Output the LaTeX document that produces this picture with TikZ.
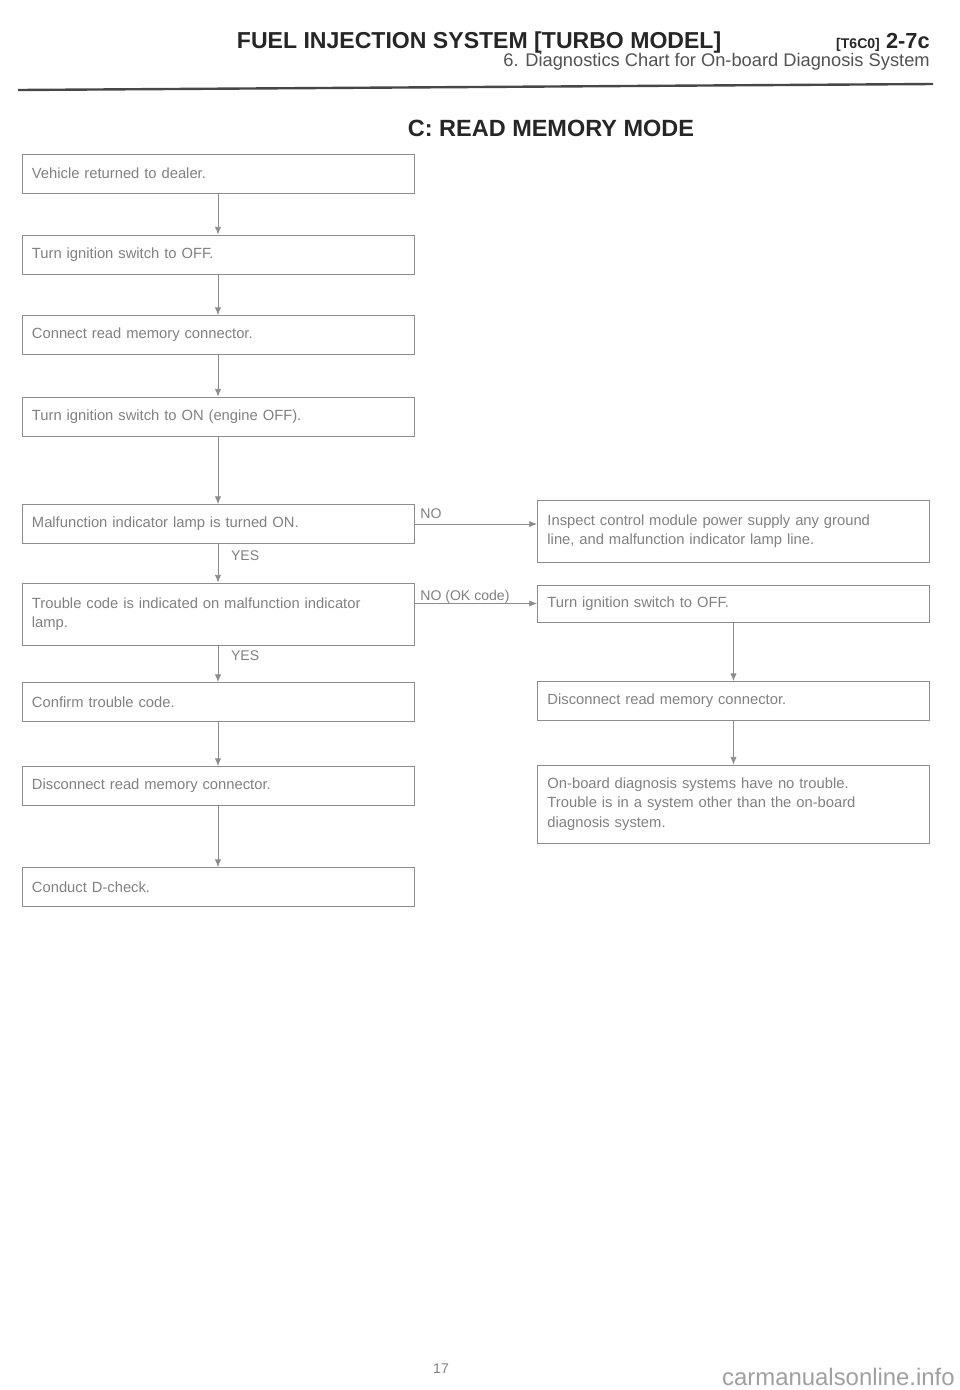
\documentclass[tikz,border=0pt]{standalone}
\usepackage{fontspec}
\setmainfont{Liberation Sans}
\usetikzlibrary{arrows.meta}
\definecolor{boxgray}{gray}{0.55}
\definecolor{inkgray}{gray}{0.5}
\definecolor{headink}{gray}{0.15}

\begin{document}
\begin{tikzpicture}[
  x=0.025cm, y=-0.025cm,
  stepbox/.style={draw=boxgray, line width=0.6pt, minimum height=0.975cm,
    text width=9.3cm, align=left, inner xsep=0.25cm, text=inkgray,
    font=\fontsize{10.5}{13.8}\selectfont},
  tallbox/.style={stepbox, minimum height=1.55cm},
  flow/.style={draw=boxgray, line width=0.6pt, -{Latex[length=5.5pt,width=4.5pt]}},
  answer/.style={text=inkgray, font=\fontsize{10}{12}\selectfont, inner sep=1pt}
]
\useasboundingbox (0,0) rectangle (960,1390);

% page header
\node[anchor=base west, text=headink, font=\bfseries\fontsize{16.4}{18}\selectfont] (title) at (232,48) {FUEL INJECTION SYSTEM [TURBO MODEL]};
\node[anchor=base east, text=headink, font=\bfseries\fontsize{15.5}{18}\selectfont, inner sep=0pt] (pageno) at (930,48) {2-7c};
\node[anchor=base east, text=headink, font=\bfseries\fontsize{10}{12}\selectfont, inner xsep=4pt] (code) at (pageno.base west) {[T6C0]};
\node[anchor=base east, text=headink!80, font=\fontsize{13}{15}\selectfont, inner sep=0pt] (sub) at (930,66) {6. Diagnostics Chart for On-board Diagnosis System};
\draw[headink!85, line width=1.7pt] (18,90) -- (933,84);
\node[anchor=base, text=headink, font=\bfseries\fontsize{16.7}{18}\selectfont] (mode) at (551,136) {C: READ MEMORY MODE};

% left column
\node[stepbox] (dealer) at (218,173.5) {Vehicle returned to dealer.};
\node[stepbox] (off) at (218,254.5) {Turn ignition switch to OFF.};
\node[stepbox] (conn) at (218,335) {Connect read memory connector.};
\node[stepbox] (on) at (218,416.5) {Turn ignition switch to ON (engine OFF).};
\node[stepbox] (lamp) at (218,524) {Malfunction indicator lamp is turned ON.};
\node[tallbox] (trouble) at (218,614) {Trouble code is indicated on malfunction indicator\\lamp.};
\node[stepbox] (confirm) at (218,702) {Confirm trouble code.};
\node[stepbox] (disc) at (218,786) {Disconnect read memory connector.};
\node[stepbox] (dcheck) at (218,887) {Conduct D-check.};

% right column
\node[tallbox] (inspect) at (733.5,531) {Inspect control module power supply any ground\\line, and malfunction indicator lamp line.};
\node[stepbox, minimum height=0.925cm] (roff) at (733.5,603.5) {Turn ignition switch to OFF.};
\node[stepbox] (rdisc) at (733.5,701) {Disconnect read memory connector.};
\node[stepbox, minimum height=1.95cm] (noprob) at (733.5,804) {On-board diagnosis systems have no trouble.\\Trouble is in a system other than the on-board\\diagnosis system.};

% connectors
\draw[flow] (dealer) -- (off);
\draw[flow] (off) -- (conn);
\draw[flow] (conn) -- (on);
\draw[flow] (on) -- (lamp);
\draw[flow] (lamp) -- node[answer, anchor=north west, pos=0.12, xshift=8pt] {YES} (trouble);
\draw[flow] (trouble) -- node[answer, anchor=north west, pos=0.08, xshift=8pt] {YES} (confirm);
\draw[flow] (confirm) -- (disc);
\draw[flow] (disc) -- (dcheck);
\draw[flow] (lamp.east) -- (lamp.east -| inspect.west);
\draw[flow] (roff.west -| trouble.east) -- (roff.west);
\draw[flow] (roff) -- (rdisc);
\draw[flow] (rdisc) -- (noprob);
\node[answer, anchor=north west] (no) at ([xshift=3pt,yshift=-2pt]lamp.north east) {NO};
\node[answer, anchor=north west] (nook) at ([xshift=3pt,yshift=-4pt]trouble.north east) {NO (OK code)};

% footer
\node[anchor=base, text=inkgray, font=\fontsize{10}{12}\selectfont] (folio) at (441,1373) {17};
\node[anchor=base east, text=gray!75, font=\fontsize{17}{20}\selectfont, inner sep=0pt] (mark) at (955,1385) {carmanualsonline.info};
\end{tikzpicture}
\end{document}
